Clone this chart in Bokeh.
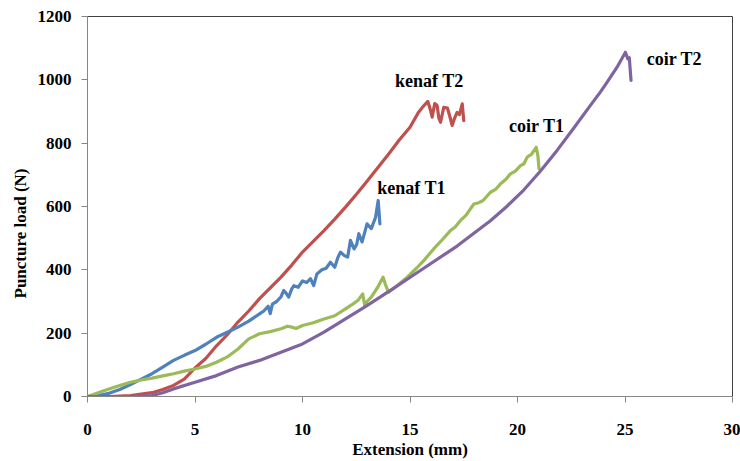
from bokeh.plotting import figure
from bokeh.models import Range1d, FixedTicker, ColumnDataSource, Title
from bokeh.core.properties import value
from bokeh.embed import file_html
from bokeh.resources import INLINE

# ---- data ----
kenaf_t2_x = [0, 1, 2, 2.5, 3, 3.5, 4, 4.5, 5, 5.5, 6, 6.5, 7, 7.5, 8, 8.5, 9, 9.5, 10, 10.5,
              11, 11.5, 12, 12.5, 13, 13.5, 14, 14.5, 15, 15.4, 15.6, 15.83, 15.95, 16.03, 16.15,
              16.26, 16.34, 16.42, 16.57, 16.74, 16.85, 16.96, 17.08, 17.19, 17.3, 17.43, 17.5]
kenaf_t2_y = [0, 0, 3, 8, 12, 22, 35, 55, 90, 120, 160, 195, 235, 270, 309, 343, 377, 415, 456, 490,
              524, 560, 598, 638, 680, 722, 765, 810, 850, 898, 915, 932, 905, 882, 925,
              919, 880, 866, 913, 911, 885, 856, 880, 897, 890, 924, 871]

kenaf_t1_x = [0, 0.5, 1, 1.5, 2, 2.5, 3, 3.5, 4, 4.5, 5, 5.5, 6, 6.5, 7, 7.5, 8, 8.2, 8.4, 8.5,
              8.6, 8.8, 9.0, 9.13, 9.25, 9.36, 9.5, 9.6, 9.8, 10.0, 10.2, 10.37, 10.52, 10.67, 10.9,
              11.1, 11.3, 11.5, 11.65, 11.77, 11.95, 12.1, 12.23, 12.4, 12.52, 12.62, 12.77, 12.9,
              13.0, 13.2, 13.4, 13.52, 13.6]
kenaf_t1_y = [0, 3, 10, 22, 38, 55, 72, 93, 114, 130, 145, 165, 187, 203, 219, 238, 261, 270, 285, 262,
              292, 300, 315, 335, 325, 314, 340, 350, 345, 365, 360, 372, 350, 387, 400,
              405, 424, 408, 440, 456, 445, 440, 493, 466, 480, 514, 488, 520,
              545, 530, 566, 619, 545]

coir_t1_x = [0, 0.5, 1, 1.5, 2, 2.5, 3, 3.5, 4, 4.5, 5, 5.5, 6, 6.5, 7, 7.5, 8, 8.5, 9, 9.3,
             9.5, 9.7, 10, 10.5, 11, 11.5, 12, 12.3, 12.6, 12.8, 12.9, 13.0, 13.2, 13.5, 13.75,
             13.85, 14.0, 14.4, 14.87, 15.3, 15.64, 16.1, 16.5, 16.88, 17.1, 17.35, 17.6, 17.97,
             18.2, 18.4, 18.74, 19.0, 19.2, 19.45, 19.67, 19.9, 20.14, 20.3, 20.45, 20.65, 20.87,
             20.95, 21.0]
coir_t1_y = [0, 12, 24, 35, 45, 52, 58, 65, 72, 80, 87, 95, 108, 125, 150, 182, 198, 205, 214, 222,
             219, 215, 224, 233, 245, 255, 277, 290, 305, 324, 285, 300, 314, 345, 377,
             355, 329, 350, 377, 405, 429, 466, 495, 524, 535, 556, 572, 608,
             612, 619, 645, 655, 671, 685, 703, 712, 729, 735, 756, 765, 787,
             760, 719]

coir_t2_x = [0, 1, 2, 2.5, 3, 3.5, 4, 5, 6, 7, 8, 9, 10, 11, 12, 13, 14.09, 15.64, 17.19, 18.74,
             19.5, 20.29, 21.07, 21.85, 22.62, 23.4, 23.86, 24.17, 24.63, 25.02, 25.13, 25.2, 25.28]
coir_t2_y = [0, 0, 0, 1, 3, 12, 24, 45, 66, 93, 114, 140, 166, 203, 245, 287, 335, 405, 475, 555,
             600, 652, 712, 778, 848, 920, 962, 993, 1040, 1087, 1066, 1070, 998]

series_names = ["kenaf T2", "kenaf T1", "coir T1", "coir T2"]
series_colors = ["#C0504D", "#4F81BD", "#9BBB59", "#8064A2"]
label_x = [15.9, 15.07, 20.9, 27.3]
label_y = [995, 658, 853, 1067]

x_ticks = [0, 5, 10, 15, 20, 25, 30]
y_ticks = [0, 200, 400, 600, 800, 1000, 1200]

FONT = "Liberation Serif"

p = figure(width=740, height=461, output_backend="svg", toolbar_location=None,
           x_range=Range1d(0, 30), y_range=Range1d(0, 1200),
           min_border_left=87, min_border_right=8, min_border_top=16, min_border_bottom=65)

p.xgrid.visible = False
p.ygrid.visible = False
p.outline_line_color = "#404040"
p.outline_line_width = 1
p.background_fill_color = "white"
p.border_fill_color = "white"

for ax, ticks in ((p.xaxis[0], x_ticks), (p.yaxis[0], y_ticks)):
    ax.ticker = FixedTicker(ticks=ticks)
    ax.axis_line_color = "#868686"
    ax.major_tick_line_color = "#868686"
    ax.major_tick_out = 6
    ax.major_tick_in = 0
    ax.minor_tick_line_color = None
    ax.major_label_text_font = FONT
    ax.major_label_text_font_style = "bold"
    ax.major_label_text_font_size = "17px"
    ax.major_label_text_color = "black"
    ax.major_label_standoff = 10

p.xaxis[0].major_label_standoff = 21
p.xaxis[0].axis_label = "Extension (mm)"
p.xaxis[0].axis_label_text_font = FONT
p.xaxis[0].axis_label_text_font_style = "bold"
p.xaxis[0].axis_label_text_font_size = "17px"
p.xaxis[0].axis_label_text_color = "black"
p.xaxis[0].axis_label_standoff = 2

xs = [kenaf_t2_x, kenaf_t1_x, coir_t1_x, coir_t2_x]
ys = [kenaf_t2_y, kenaf_t1_y, coir_t1_y, coir_t2_y]
for x, y, c in zip(xs, ys, series_colors):
    p.line(x, y, line_color=c, line_width=3.2, line_join="round", line_cap="round")

src = ColumnDataSource(dict(x=label_x, y=label_y, t=series_names))
p.text(x="x", y="y", text="t", source=src, text_font=value(FONT), text_font_style="bold",
       text_font_size="18px", text_color="black", text_align="center", text_baseline="middle")

p.add_layout(Title(text="Puncture load (N)", align="left", offset=98, standoff=9,
                   text_font=FONT, text_font_style="bold", text_font_size="17px",
                   text_color="black"), "left")

open("out.html", "w").write(file_html(p, INLINE))
